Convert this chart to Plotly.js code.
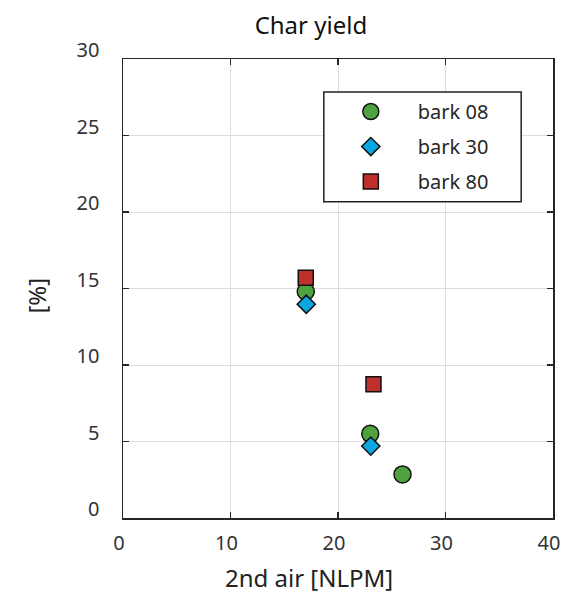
<!DOCTYPE html>
<html>
<head>
<meta charset="utf-8">
<script src="https://cdn.plot.ly/plotly-3.0.1.min.js"></script>
<style>
  html, body { margin: 0; padding: 0; background: #fff; }
  #chart { width: 564px; height: 594px; }
</style>
</head>
<body>
<div id="chart"></div>
<script>
// Secondary air flow [NLPM] and char yield [%] per bark sample
const bark08X = [17.0, 23.0, 26.0];
const bark08Y = [14.8, 5.5, 2.85];
const bark30X = [17.05, 23.05];
const bark30Y = [13.97, 4.7];
const bark80X = [17.0, 23.3];
const bark80Y = [15.7, 8.75];

const seriesNames = ['bark 08', 'bark 30', 'bark 80'];
const xTicks = [0, 10, 20, 30, 40];
const yTicks = [0, 5, 10, 15, 20, 25, 30];

const FONT = 'Noto Sans, Open Sans, sans-serif';
const INK = '#262626';

function series(x, y, name, symbol, color, size) {
  return {
    type: 'scatter', mode: 'markers', x: x, y: y, name: name,
    legendgroup: name,
    marker: { symbol: symbol, color: color, size: size,
              line: { color: '#111', width: 1.5 } }
  };
}

const traces = [
  series(bark08X, bark08Y, seriesNames[0], 'circle', '#4ea23f', 17),
  series(bark30X, bark30Y, seriesNames[1], 'diamond', '#0aa6df', 14),
  series(bark80X, bark80Y, seriesNames[2], 'square', '#be302b', 15)
];

const axisCommon = {
  showline: true, linecolor: INK, linewidth: 1.5, mirror: 'ticks',
  ticks: 'inside', ticklen: 6, tickwidth: 1.5, tickcolor: INK,
  showgrid: true, gridcolor: '#dedede', gridwidth: 1,
  zeroline: false, fixedrange: true,
  tickfont: { family: FONT, size: 20, color: '#333' }
};

const layout = {
  width: 564, height: 594,
  margin: { l: 123, r: 11, t: 59, b: 76 },
  paper_bgcolor: '#fff', plot_bgcolor: '#fff',
  font: { family: FONT, color: INK },
  showlegend: true,
  title: { text: 'Char yield', x: 0.437, xref: 'paper', xanchor: 'center',
           y: 0.957, yanchor: 'middle', font: { family: FONT, size: 24, color: '#111' } },
  xaxis: Object.assign({}, axisCommon, {
    range: [0, 40], tickvals: xTicks, ticktext: xTicks.map(String),
    ticklabelshift: -4, ticklabelstandoff: 6
  }),
  yaxis: Object.assign({}, axisCommon, {
    range: [0, 30], tickvals: yTicks, ticktext: yTicks.map(String),
    ticklabelshift: -9, ticklabelstandoff: 18
  }),
  legend: {
    x: 0.467, y: 0.928, xanchor: 'left', yanchor: 'top',
    bgcolor: 'rgba(0,0,0,0)', borderwidth: 0,
    font: { family: FONT, size: 20, color: INK },
    itemwidth: 84, tracegroupgap: 6
  },
  // legend frame
  shapes: [
    { type: 'rect', xref: 'paper', yref: 'paper', layer: 'above',
      x0: 0.467, x1: 0.926, y0: 0.689, y1: 0.928,
      fillcolor: '#fff', line: { color: '#222', width: 1.5 } }
  ],
  annotations: [
    { text: '2nd air [NLPM]', xref: 'paper', yref: 'paper', x: 0.433, y: -0.13,
      xanchor: 'center', yanchor: 'middle', showarrow: false,
      font: { family: FONT, size: 24, color: '#222' } },
    { text: '[%]', xref: 'paper', yref: 'paper', x: -0.202, y: 0.485,
      xanchor: 'center', yanchor: 'middle', showarrow: false, textangle: -90,
      font: { family: FONT, size: 24, color: '#222' } }
  ]
};

Plotly.newPlot('chart', traces, layout, { displayModeBar: false, staticPlot: true });
</script>
</body>
</html>
